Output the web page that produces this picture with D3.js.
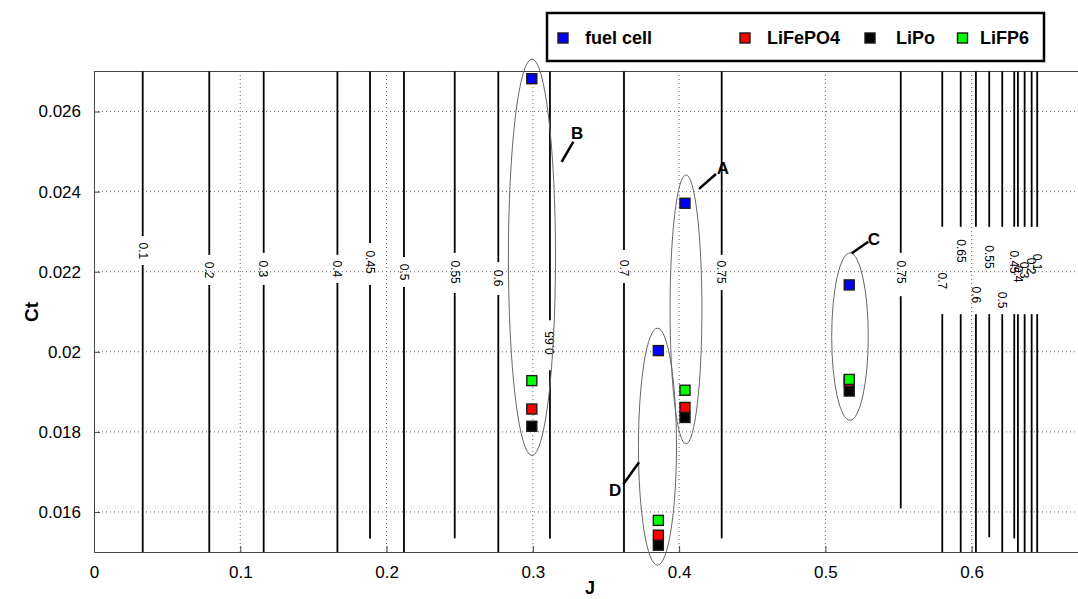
<!DOCTYPE html>
<html>
<head>
<meta charset="utf-8">
<script src="https://cdn.jsdelivr.net/npm/d3@7"></script>
<style>
  body { margin: 0; background: #fff; }
  svg { display: block; font-family: "Liberation Sans", Arial, sans-serif; }
</style>
</head>
<body>
<div id="chart"></div>
<script>
// axis ticks
var xTicks = [0, 0.1, 0.2, 0.3, 0.4, 0.5, 0.6];
var xTickLabels = ["0", "0.1", "0.2", "0.3", "0.4", "0.5", "0.6"];
var yTicks = [0.016, 0.018, 0.02, 0.022, 0.024, 0.026];
var yTickLabels = ["0.016", "0.018", "0.02", "0.022", "0.024", "0.026"];

// efficiency contours (vertical, one J each)
var contourJ = [0.0333, 0.0788, 0.1160, 0.1664, 0.1887, 0.2119, 0.2466, 0.2764, 0.3117, 0.3623, 0.4291,
                0.5515, 0.5799, 0.5925, 0.6029, 0.6120, 0.6209, 0.6291, 0.6316, 0.6362, 0.6410, 0.6448];
var contourLevel = ["0.1", "0.2", "0.3", "0.4", "0.45", "0.5", "0.55", "0.6", "0.65", "0.7", "0.75",
                    "0.75", "0.7", "0.65", "0.6", "0.55", "0.5", "0.45", "0.4", "0.3", "0.2", "0.1"];
var contourLabelCt = [0.02252, 0.02204, 0.02207, 0.02207, 0.02224, 0.02199, 0.02199, 0.02184, 0.02022, 0.02209, 0.02199,
                      0.02199, 0.02177, 0.02252, 0.02142, 0.02237, 0.02129, 0.02224, 0.02194, 0.02204, 0.02214, 0.02224];
var contourGapTop = [0.02289, 0.02242, 0.02247, 0.02242, 0.02272, 0.02237, 0.02247, 0.02224, 0.02079, 0.02254, 0.02242,
                     0.02247, 0.02312, 0.02312, 0.02312, 0.02312, 0.02312, 0.02312, 0.02312, 0.02312, 0.02312, 0.02312];
var contourGapBottom = [0.02217, 0.02167, 0.02167, 0.02172, 0.02167, 0.02162, 0.02147, 0.02142, 0.01954, 0.02172, 0.02154,
                        0.02139, 0.02094, 0.02094, 0.02094, 0.02094, 0.02094, 0.02094, 0.02094, 0.02094, 0.02094, 0.02094];
var contourCtMin = [0.015, 0.015, 0.015, 0.015, 0.01534, 0.015, 0.01534, 0.015, 0.01534, 0.015, 0.01534,
                    0.01609, 0.015, 0.015, 0.015, 0.01537, 0.015, 0.01534, 0.015, 0.015, 0.015, 0.015];
var contourFlip = [0, 0, 0, 0, 0, 0, 0, 0, 1, 0, 0, 0, 0, 0, 0, 0, 0, 0, 0, 0, 0, 0];

// operating points per group
var groups = ["A", "B", "C", "D"];
var groupJ = [0.4040, 0.2993, 0.5163, 0.3858];
var fuelCell = [0.02371, 0.02682, 0.02167, 0.02003];
var liFePO4 = [0.01861, 0.01857, 0.01926, 0.01542];
var liPo = [0.01836, 0.01814, 0.01902, 0.01517];
var liFP6 = [0.01904, 0.01928, 0.01931, 0.01579];

// group ellipses
var ellipseJ = [0.4047, 0.2994, 0.5168, 0.3852];
var ellipseCt = [0.02106, 0.02236, 0.02038, 0.01763];
var ellipseRJ = [0.0109, 0.0161, 0.0125, 0.0130];
var ellipseRCt = [0.00336, 0.00495, 0.00209, 0.00296];

// group callouts: leader start / end, label
var leaderJ0 = [0.4136, 0.3197, 0.5180, 0.3726];
var leaderCt0 = [0.02407, 0.02474, 0.02246, 0.01724];
var leaderJ1 = [0.4252, 0.3277, 0.5293, 0.3618];
var leaderCt1 = [0.02444, 0.02525, 0.02275, 0.01669];
var calloutJ = [0.4300, 0.3302, 0.5332, 0.3562];
var calloutCt = [0.02459, 0.02547, 0.02282, 0.01656];

var seriesNames = ["fuel cell", "LiFePO4", "LiPo", "LiFP6"];
var seriesColors = ["#0000ff", "#ff0000", "#000000", "#00ff00"];
var seriesValues = [fuelCell, liFePO4, liPo, liFP6];

var width = 1078, height = 599;

var x = d3.scaleLinear().domain([0, 0.675]).range([94, 94 + 0.675 * 1462.8]);
var y = d3.scaleLinear().domain([0.015, 0.027]).range([552, 71.5]);

var svg = d3.select("#chart").append("svg")
            .attr("width", width)
            .attr("height", height);

var x0 = x.range()[0], x1 = x.range()[1], y0 = y.range()[0], y1 = y.range()[1];

// grid
svg.append("g").selectAll("line")
   .data(xTicks.slice(1))
   .enter().append("line")
   .attr("x1", d => x(d)).attr("x2", d => x(d))
   .attr("y1", y0).attr("y2", y1)
   .attr("stroke", "#666").attr("stroke-width", 1)
   .attr("stroke-dasharray", "1,3");

svg.append("g").selectAll("line")
   .data(yTicks)
   .enter().append("line")
   .attr("x1", x0).attr("x2", x1)
   .attr("y1", d => y(d)).attr("y2", d => y(d))
   .attr("stroke", "#666").attr("stroke-width", 1)
   .attr("stroke-dasharray", "1,3");

// axes
var xAxis = d3.axisBottom(x).tickValues(xTicks)
              .tickFormat((d, i) => xTickLabels[i])
              .tickSizeInner(-6).tickSizeOuter(0).tickPadding(14);
var yAxis = d3.axisLeft(y).tickValues(yTicks)
              .tickFormat((d, i) => yTickLabels[i])
              .tickSizeInner(-6).tickSizeOuter(0).tickPadding(13);

var gx = svg.append("g").attr("transform", "translate(0," + y0 + ")").call(xAxis);
var gy = svg.append("g").attr("transform", "translate(" + x0 + ",0)").call(yAxis);
[gx, gy].forEach(g => {
  g.select(".domain").attr("stroke", "#444");
  g.selectAll(".tick line").attr("stroke", "#444");
  g.selectAll(".tick text").attr("fill", "#000")
   .style("font-size", "17px").style("font-family", "'Liberation Sans', Arial, sans-serif");
});

// top border
svg.append("line")
   .attr("x1", x0).attr("x2", x1).attr("y1", y1).attr("y2", y1)
   .attr("stroke", "#444");

// contour lines with a gap for the label
var contours = contourJ.map((j, i) => ({
  j: j, level: contourLevel[i], labelCt: contourLabelCt[i],
  gapTop: contourGapTop[i], gapBottom: contourGapBottom[i], ctMin: contourCtMin[i], flip: contourFlip[i]
}));

var cg = svg.append("g");
contours.forEach(c => {
  cg.append("line")
    .attr("x1", x(c.j)).attr("x2", x(c.j))
    .attr("y1", y(0.027)).attr("y2", y(c.gapTop))
    .attr("stroke", "#000").attr("stroke-width", 1.8);
  cg.append("line")
    .attr("x1", x(c.j)).attr("x2", x(c.j))
    .attr("y1", y(c.gapBottom)).attr("y2", y(c.ctMin))
    .attr("stroke", "#000").attr("stroke-width", 1.8);
  cg.append("text")
    .attr("transform", "translate(" + x(c.j) + "," + y(c.labelCt) + ") rotate(" + (c.flip ? -90 : 90) + ")")
    .attr("text-anchor", "middle")
    .attr("dy", "0.35em")
    .style("font-size", "12px")
    .text(c.level);
});

// ellipses
svg.append("g").selectAll("ellipse")
   .data(groups)
   .enter().append("ellipse")
   .attr("cx", (d, i) => x(ellipseJ[i]))
   .attr("cy", (d, i) => y(ellipseCt[i]))
   .attr("rx", (d, i) => x(ellipseJ[i] + ellipseRJ[i]) - x(ellipseJ[i]))
   .attr("ry", (d, i) => y(ellipseCt[i] - ellipseRCt[i]) - y(ellipseCt[i]))
   .attr("fill", "none").attr("stroke", "#666").attr("stroke-width", 1);

// markers: drawn fuel cell, LiPo, LiFePO4, LiFP6
var drawOrder = [0, 2, 1, 3];
var mg = svg.append("g");
drawOrder.forEach(s => {
  mg.selectAll(null)
    .data(seriesValues[s])
    .enter().append("rect")
    .attr("x", (d, i) => x(groupJ[i]) - 5)
    .attr("y", d => y(d) - 5)
    .attr("width", 10).attr("height", 10)
    .attr("fill", seriesColors[s])
    .attr("stroke", "#1a1a1a").attr("stroke-width", 1.4);
});

// callouts
var ag = svg.append("g");
groups.forEach((g, i) => {
  ag.append("line")
    .attr("x1", x(leaderJ0[i])).attr("y1", y(leaderCt0[i]))
    .attr("x2", x(leaderJ1[i])).attr("y2", y(leaderCt1[i]))
    .attr("stroke", "#000").attr("stroke-width", 2.5);
  ag.append("text")
    .attr("x", x(calloutJ[i])).attr("y", y(calloutCt[i]))
    .attr("text-anchor", "middle").attr("dy", "0.36em")
    .style("font-size", "17px").style("font-weight", "bold")
    .text(g);
});

// axis titles
svg.append("text")
   .attr("x", 590).attr("y", 594)
   .attr("text-anchor", "middle")
   .style("font-size", "18px").style("font-weight", "bold")
   .text("J");

svg.append("text")
   .attr("transform", "translate(38,312) rotate(-90)")
   .attr("text-anchor", "middle")
   .style("font-size", "19px").style("font-weight", "bold")
   .text("Ct");

// legend
var legend = svg.append("g");
legend.append("rect")
      .attr("x", 547).attr("y", 13).attr("width", 497).attr("height", 48)
      .attr("fill", "#fff").attr("stroke", "#000").attr("stroke-width", 2.5);

var legendMarkX = [563, 745, 870, 962.5];
var legendTextX = [585, 767, 896, 980];
seriesNames.forEach((name, i) => {
  legend.append("rect")
        .attr("x", legendMarkX[i] - 5).attr("y", 33)
        .attr("width", 10).attr("height", 10)
        .attr("fill", seriesColors[i])
        .attr("stroke", "#1a1a1a").attr("stroke-width", 1.4);
  legend.append("text")
        .attr("x", legendTextX[i]).attr("y", 44)
        .style("font-size", "18px").style("font-weight", "bold")
        .text(name);
});
</script>
</body>
</html>
